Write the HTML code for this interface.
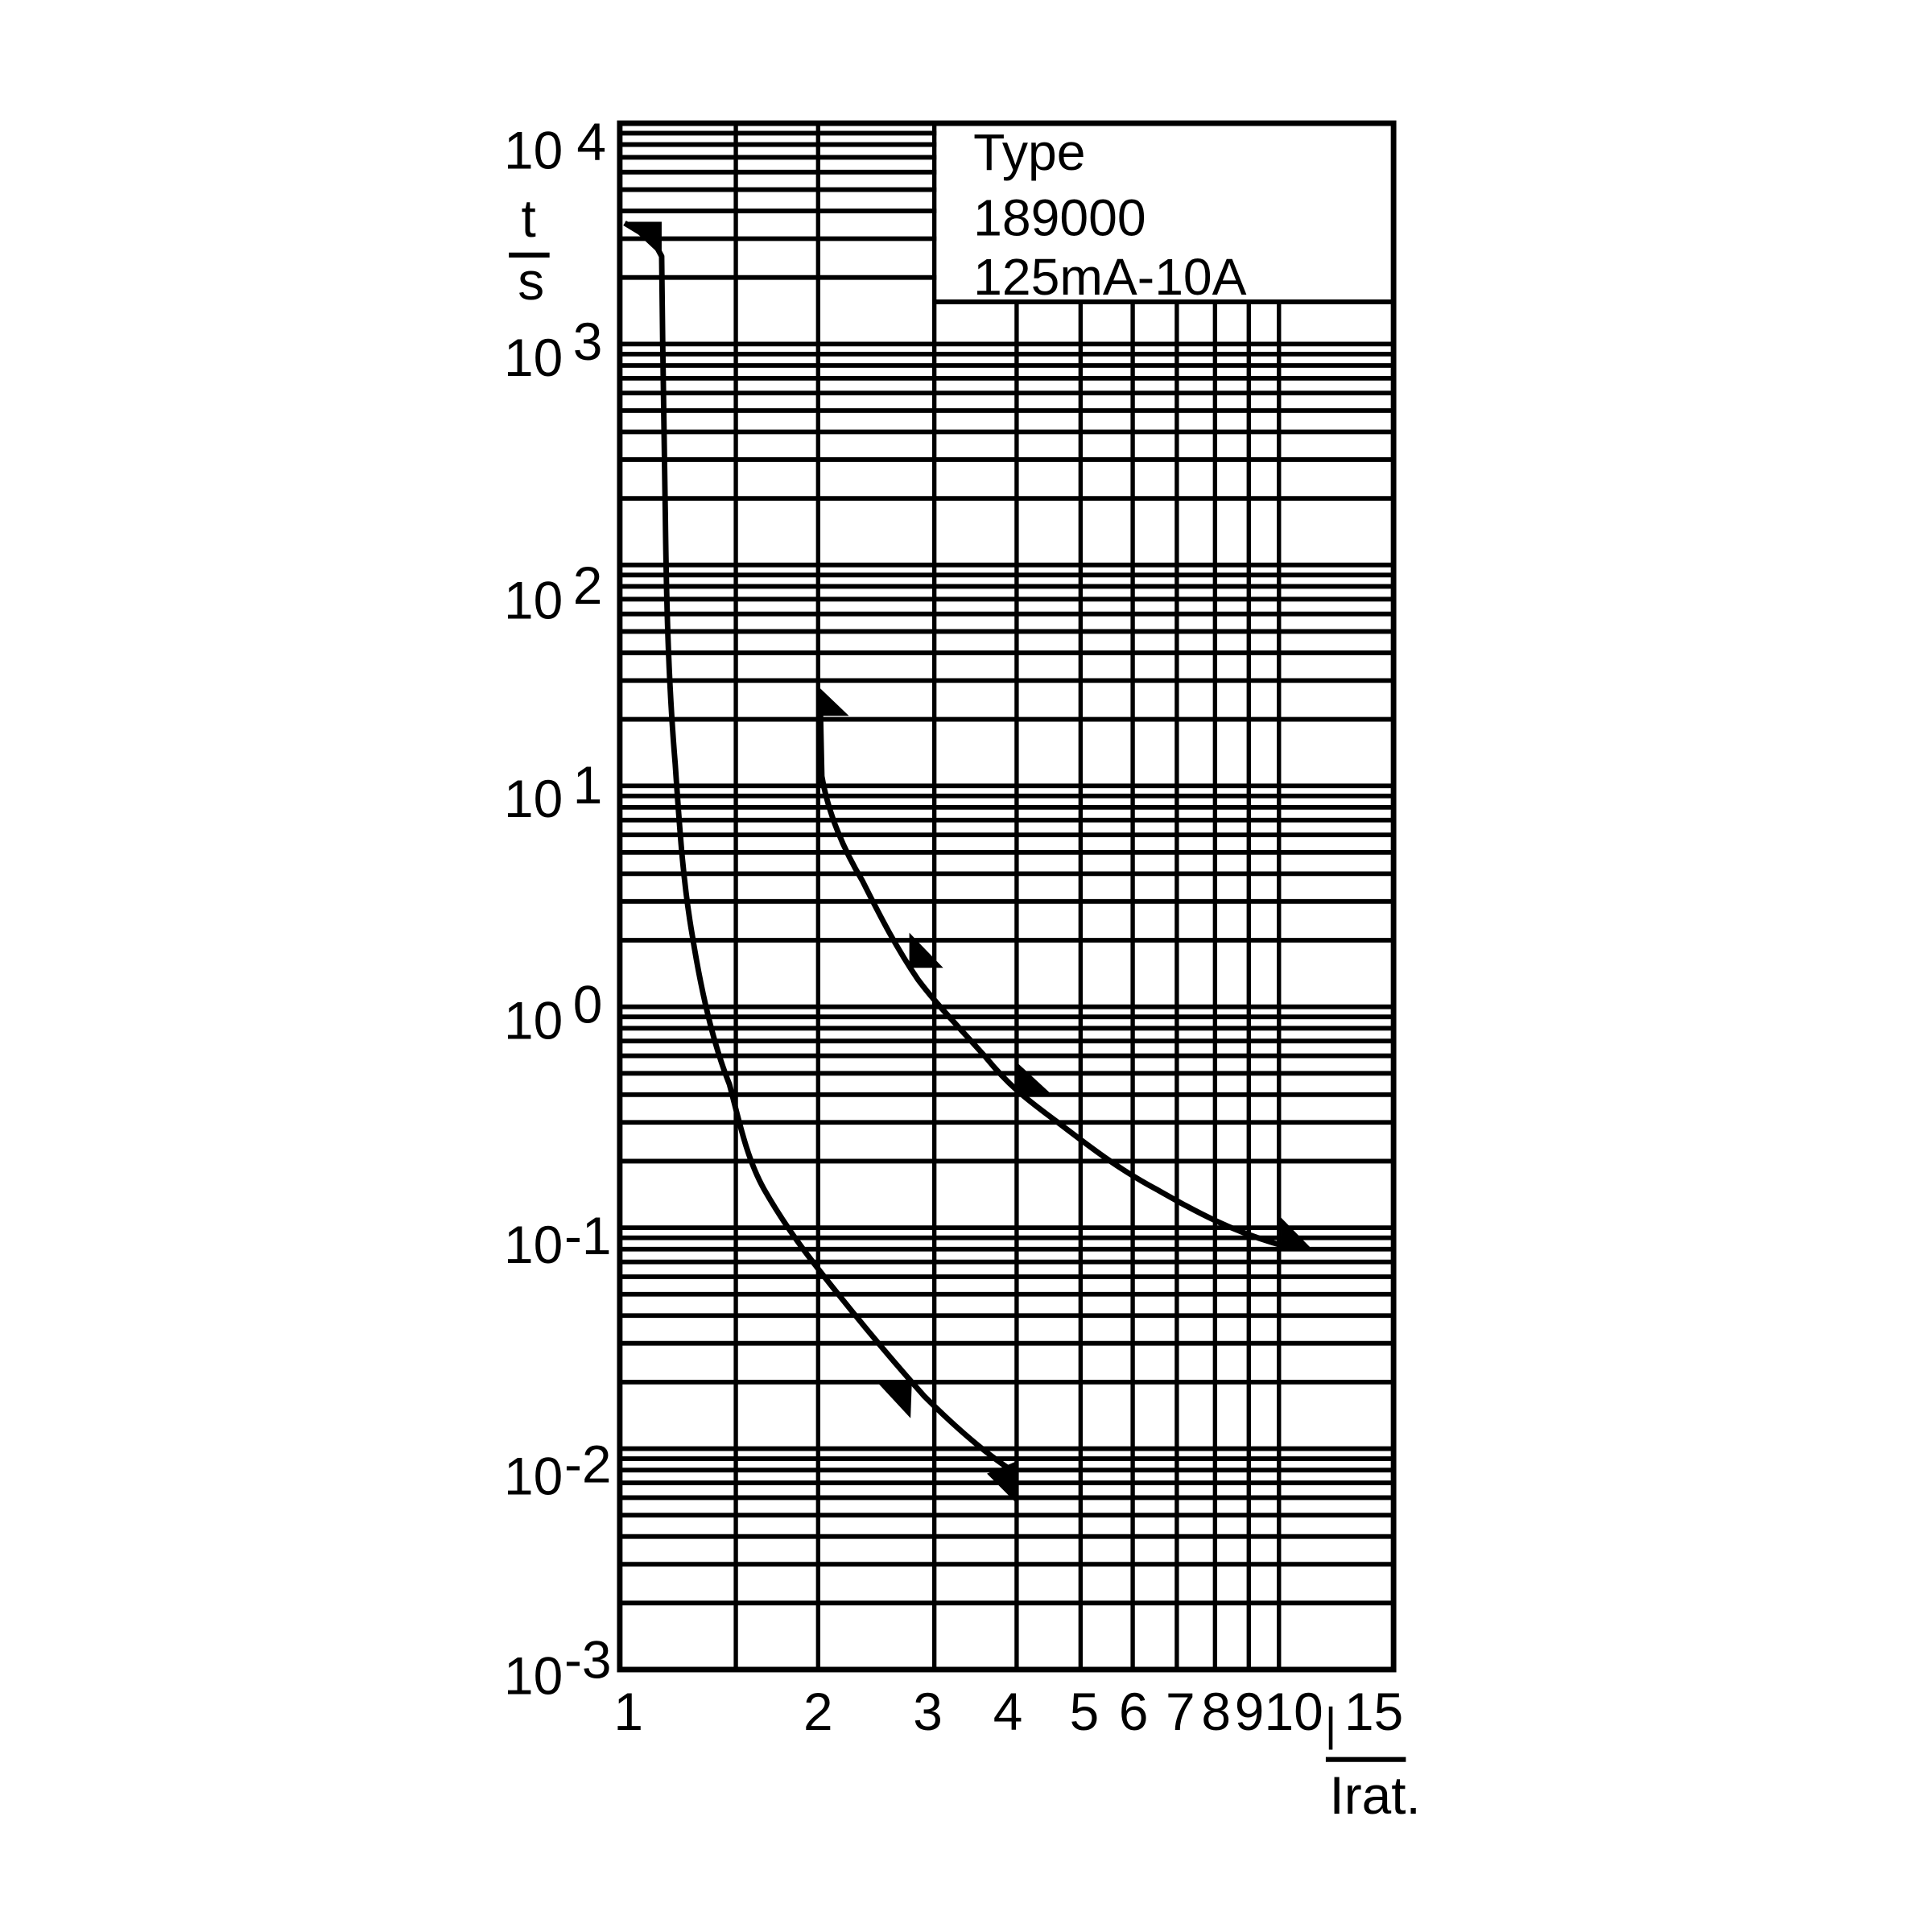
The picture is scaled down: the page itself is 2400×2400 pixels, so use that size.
<!DOCTYPE html>
<html><head><meta charset="utf-8"><style>
html,body{margin:0;padding:0;background:#fff;width:2400px;height:2400px;overflow:hidden}
svg{display:block}
text{font-family:"Liberation Sans",Arial,sans-serif;fill:#000}
</style></head><body>
<svg width="2400" height="2400" viewBox="0 0 1568 1568" xmlns="http://www.w3.org/2000/svg">
<defs>
<g id="dec" stroke="#000" stroke-width="3.8">
<line x1="503" x2="1131" y1="0" y2="0"/>
<line x1="503" x2="1131" y1="-54" y2="-54"/>
<line x1="503" x2="1131" y1="-85.5" y2="-85.5"/>
<line x1="503" x2="1131" y1="-108" y2="-108"/>
<line x1="503" x2="1131" y1="-125.3" y2="-125.3"/>
<line x1="503" x2="1131" y1="-139.5" y2="-139.5"/>
<line x1="503" x2="1131" y1="-151.5" y2="-151.5"/>
<line x1="503" x2="1131" y1="-161.9" y2="-161.9"/>
<line x1="503" x2="1131" y1="-171.1" y2="-171.1"/>
</g>
<g id="dech" stroke="#000" stroke-width="3.8">
<line x1="503" x2="1131" y1="0" y2="0"/>
<line x1="503" x2="760" y1="-54" y2="-54"/>
<line x1="503" x2="760" y1="-85.5" y2="-85.5"/>
<line x1="503" x2="760" y1="-108" y2="-108"/>
<line x1="503" x2="760" y1="-125.3" y2="-125.3"/>
<line x1="503" x2="760" y1="-139.5" y2="-139.5"/>
<line x1="503" x2="760" y1="-151.5" y2="-151.5"/>
<line x1="503" x2="760" y1="-161.9" y2="-161.9"/>
<line x1="503" x2="760" y1="-171.1" y2="-171.1"/>
</g>
</defs>
<use href="#dec" transform="translate(0,1355)"/>
<use href="#dec" transform="translate(0,1175.7)"/>
<use href="#dec" transform="translate(0,996.4)"/>
<use href="#dec" transform="translate(0,817.1)"/>
<use href="#dec" transform="translate(0,637.8)"/>
<use href="#dec" transform="translate(0,458.5)"/>
<use href="#dech" transform="translate(0,279.2)"/>
<g stroke="#000" stroke-width="3.5">
<line x1="597.2" x2="597.2" y1="100" y2="1355"/>
<line x1="664" x2="664" y1="100" y2="1355"/>
<line x1="758.3" x2="758.3" y1="100" y2="1355"/>
<line x1="825.1" x2="825.1" y1="245" y2="1355"/>
<line x1="877" x2="877" y1="245" y2="1355"/>
<line x1="919.3" x2="919.3" y1="245" y2="1355"/>
<line x1="955.1" x2="955.1" y1="245" y2="1355"/>
<line x1="986.1" x2="986.1" y1="245" y2="1355"/>
<line x1="1013.5" x2="1013.5" y1="245" y2="1355"/>
<line x1="1038" x2="1038" y1="245" y2="1355"/>
<line x1="758" x2="1131" y1="245" y2="245" stroke-width="4"/>
</g>
<rect x="503" y="100" width="628" height="1255" fill="none" stroke="#000" stroke-width="4.5"/>
<g fill="none" stroke="#000" stroke-width="4.5" stroke-linejoin="round">
<path d="M507,181 L530,195 L537,208 C538,280 538,320 540,420 C541,500 543,560 548,620 C552,680 555,720 562,760 C570,810 580,850 592,880 C600,910 606,940 620,965 C640,1000 660,1025 680,1050 C700,1075 725,1105 750,1133 C775,1158 800,1180 825,1196"/>
<path d="M665.5,561 L667,630 C672,660 685,690 700,715 C715,745 728,770 745,795 C760,815 775,830 800,858 C818,880 830,890 860,912 C890,935 910,950 940,966 C970,983 1000,1000 1045,1012"/>
</g>
<g fill="#000">
<polygon points="507,180 537,180 537,208"/>
<polygon points="665,558 665,581 689,581"/>
<polygon points="738,757 738,785.5 765.5,785.5"/>
<polygon points="825,862 825,890 855.4,890"/>
<polygon points="1039.5,988 1039.5,1014.6 1065.6,1014.6"/>
<polygon points="713,1123 740,1123 739,1151"/>
<polygon points="801,1196 825,1186 825,1220"/>
</g>
<g font-size="43">
<text x="409" y="137">10</text><text x="468" y="130">4</text>
<text x="409" y="305">10</text><text x="465" y="292">3</text>
<text x="409" y="502">10</text><text x="465" y="490">2</text>
<text x="409" y="663">10</text><text x="465" y="652">1</text>
<text x="409" y="843">10</text><text x="465" y="830">0</text>
<text x="409" y="1025">10</text><text x="458" y="1018">-1</text>
<text x="409" y="1213">10</text><text x="458" y="1203">-2</text>
<text x="409" y="1375">10</text><text x="458" y="1362">-3</text>
<text x="429" y="192" text-anchor="middle">t</text>
<text x="431" y="243" text-anchor="middle">s</text>
</g>
<line x1="413" x2="446" y1="207" y2="207" stroke="#000" stroke-width="4"/>
<g font-size="42">
<text x="790" y="138">Type</text>
<text x="790" y="191">189000</text>
<text x="790" y="239">125mA-10A</text>
</g>
<g font-size="43" text-anchor="middle">
<text x="510" y="1404">1</text>
<text x="664" y="1404">2</text>
<text x="753" y="1404">3</text>
<text x="818" y="1404">4</text>
<text x="880" y="1404">5</text>
<text x="920" y="1404">6</text>
<text x="958" y="1404">7</text>
<text x="987" y="1404">8</text>
<text x="1014" y="1404">9</text>
<text x="1050" y="1404">10</text>
<text x="1115" y="1404">15</text>
<text x="1116" y="1472">Irat.</text>
</g>
<line x1="1080" x2="1080" y1="1385" y2="1420" stroke="#000" stroke-width="3"/>
<line x1="1076" x2="1141" y1="1428" y2="1428" stroke="#000" stroke-width="4"/>
</svg>
</body></html>
